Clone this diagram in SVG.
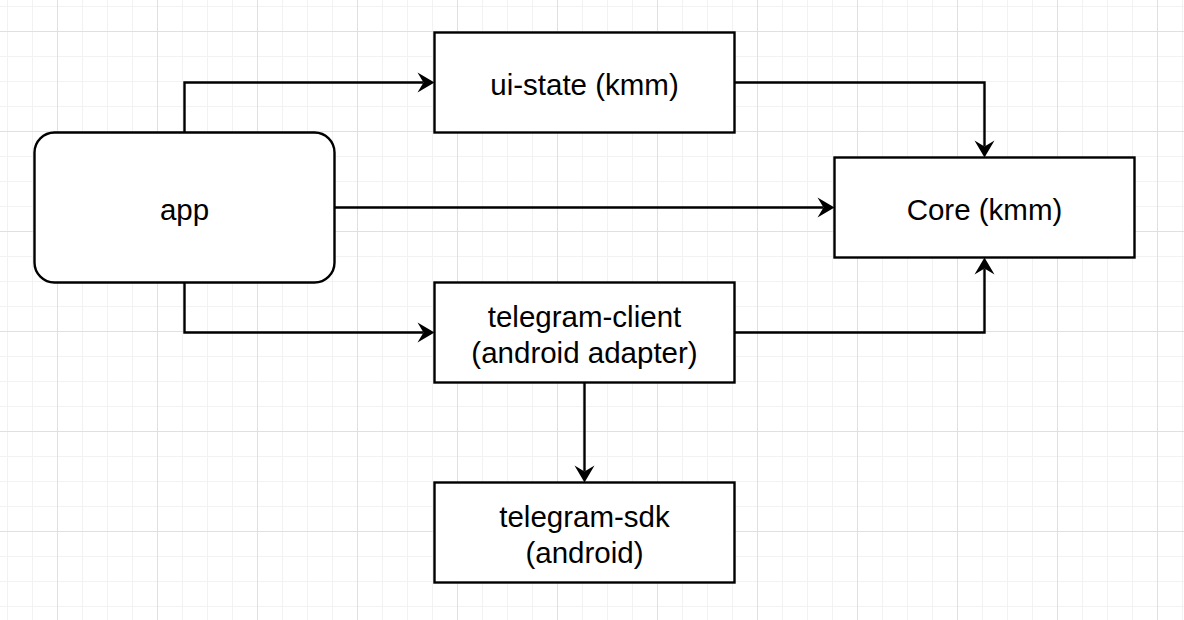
<svg xmlns="http://www.w3.org/2000/svg" width="1184" height="620" viewBox="0 0 1184 620">
  <style>
    .box { fill: #ffffff; stroke: #000000; stroke-width: 2.4; }
    .lbl { font-family: "Liberation Sans", Arial, Helvetica, sans-serif; font-size: 29.5px; fill: #000000; text-anchor: middle; }
    .edge { fill: none; stroke: #000000; stroke-width: 2.4; marker-end: url(#arrow); }
  </style>
  <defs>
    <pattern id="grid" x="57" y="31" width="100" height="100" patternUnits="userSpaceOnUse">
      <path d="M25.5,0 V100 M50.5,0 V100 M75.5,0 V100 M0,25.5 H100 M0,50.5 H100 M0,75.5 H100" stroke="#f2f2f2" stroke-width="1" fill="none"/>
      <path d="M0.5,0 V100 M0,0.5 H100" stroke="#e0e0e0" stroke-width="1" fill="none"/>
    </pattern>
    <marker id="arrow" markerUnits="userSpaceOnUse" viewBox="-18 -11 19 22" refX="-11" refY="0" markerWidth="19" markerHeight="22" orient="auto">
      <path d="M0,0 L-17,-10 L-11,0 L-17,10 Z" fill="#000000"/>
    </marker>
  </defs>
  <rect x="0" y="0" width="1184" height="620" fill="#ffffff"/>
  <rect x="0" y="0" width="1184" height="620" fill="url(#grid)"/>

  <g id="connectors">
    <path class="edge" d="M184.5,132.5 V82.5 H423.5"/>
    <path class="edge" d="M734.5,82.5 H984.5 V146.5"/>
    <path class="edge" d="M334.5,207.5 H823.5"/>
    <path class="edge" d="M184.5,282.5 V332.5 H423.5"/>
    <path class="edge" d="M734.5,332.5 H984.5 V268.5"/>
    <path class="edge" d="M584.5,382.5 V471.5"/>
  </g>

  <g id="app">
    <rect class="box" x="34.5" y="132.5" width="300" height="150" rx="20" ry="20"/>
    <text class="lbl" x="184.5" y="220">app</text>
  </g>
  <g id="ui-state">
    <rect class="box" x="434.5" y="32.5" width="300" height="100"/>
    <text class="lbl" x="584.5" y="95">ui-state (kmm)</text>
  </g>
  <g id="core">
    <rect class="box" x="834.5" y="157.5" width="300" height="100"/>
    <text class="lbl" x="984.5" y="220">Core (kmm)</text>
  </g>
  <g id="telegram-client">
    <rect class="box" x="434.5" y="282.5" width="300" height="100"/>
    <text class="lbl" x="584.5" y="327">telegram-client</text>
    <text class="lbl" x="584.5" y="363">(android adapter)</text>
  </g>
  <g id="telegram-sdk">
    <rect class="box" x="434.5" y="482.5" width="300" height="100"/>
    <text class="lbl" x="584.5" y="527">telegram-sdk</text>
    <text class="lbl" x="584.5" y="563">(android)</text>
  </g>
</svg>
